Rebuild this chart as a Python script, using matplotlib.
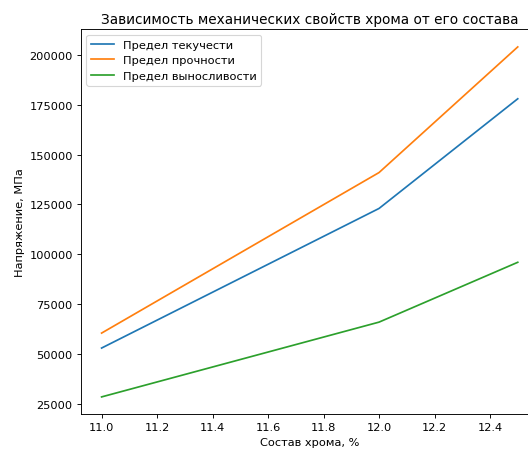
import matplotlib
matplotlib.use("Agg")
import matplotlib.pyplot as plt

# содержание хрома, %
chrome = [11.0, 12.0, 12.5]
yield_strength = [53000, 123000, 178000]
tensile_strength = [60500, 141000, 204000]
endurance_limit = [28500, 66000, 96000]

fig = plt.figure(figsize=(528 / 82, 454 / 82), dpi=82)
ax = fig.add_axes([0.153, 0.085, 0.867, 0.848])

ax.plot(chrome, yield_strength, label="Предел текучести")
ax.plot(chrome, tensile_strength, label="Предел прочности")
ax.plot(chrome, endurance_limit, label="Предел выносливости")

ax.set_title("Зависимость механических свойств хрома от его состава")
ax.set_xlabel("Состав хрома, %")
ax.set_ylabel("Напряжение, МПа")
ax.legend(loc="upper left")

fig.savefig("out.png", dpi=82)
